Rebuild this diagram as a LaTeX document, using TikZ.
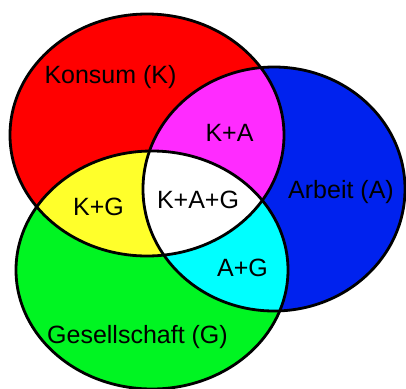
\documentclass[tikz,border=0pt]{standalone}
\usepackage{fontspec}
\setmainfont{Liberation Sans}
\definecolor{cK}{HTML}{FF0000}
\definecolor{cA}{HTML}{0022EE}
\definecolor{cG}{HTML}{00F522}
\definecolor{cKA}{HTML}{FF2BFF}
\definecolor{cKG}{HTML}{FFFF2B}
\definecolor{cAG}{HTML}{00FFFF}
\tikzset{
  lbl/.style={anchor=base, inner sep=0pt, font=\fontsize{25bp}{29bp}\selectfont},
  outline/.style={draw=black, line width=2.8bp}
}
\def\ellK{(147,135) ellipse [x radius=137, y radius=121]}
\def\ellA{(274,189) ellipse [x radius=131, y radius=122]}
\def\ellG{(152,270) ellipse [x radius=136, y radius=119]}
\begin{document}
\begin{tikzpicture}[x=1bp,y=-1bp]
\useasboundingbox (0,0) rectangle (406,389);
\fill[white] (0,0) rectangle (406,389);
\fill[cK] \ellK;
\fill[cA] \ellA;
\fill[cG] \ellG;
\begin{scope}
  \clip \ellK;
  \fill[cKA] \ellA;
  \fill[cKG] \ellG;
  \clip \ellA;
  \fill[white] \ellG;
\end{scope}
\begin{scope}
  \clip \ellA;
  \clip \ellG;
  \path[even odd rule, fill=cAG] \ellG \ellK;
\end{scope}
\draw[outline] \ellK;
\draw[outline] \ellA;
\draw[outline] \ellG;
\node[lbl] (k) at (110.5,83) {Konsum (K)};
\node[lbl] (ka) at (229.5,141) {K+A};
\node[lbl] (a) at (341,198) {Arbeit (A)};
\node[lbl] (kg) at (98.5,215) {K+G};
\node[lbl] (kag) at (198,208) {K+A+G};
\node[lbl] (ag) at (242.5,276) {A+G};
\node[lbl] (g) at (137.5,343) {Gesellschaft (G)};
\end{tikzpicture}
\end{document}
